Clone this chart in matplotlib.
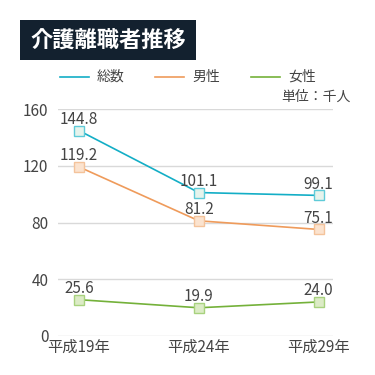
import matplotlib
matplotlib.use('Agg')
import matplotlib.pyplot as plt
from matplotlib.patches import Rectangle

plt.rcParams['font.family'] = ['Noto Sans CJK JP', 'DejaVu Sans']

years = ['平成19年', '平成24年', '平成29年']
total = [144.8, 101.1, 99.1]
male = [119.2, 81.2, 75.1]
female = [25.6, 19.9, 24.0]
series_names = ['総数', '男性', '女性']
yticks = [0, 40, 80, 120, 160]

line_colors = ['#13aec6', '#ef9b5b', '#74b13a']
face_colors = ['#e6f3ec', '#fbe3cf', '#dcebc6']
edge_colors = ['#5fcbd8', '#f4c39b', '#a8d27e']
text_color = '#444444'

fig = plt.figure(figsize=(3.75, 3.75), dpi=100)
W = H = 375.0
ax = fig.add_axes([58 / W, 1 - 336 / H, 275 / W, (336 - 109) / H])

x = list(range(len(years)))
for vals, lc, fc, ec in zip([total, male, female], line_colors, face_colors, edge_colors):
    ax.plot(x, vals, color=lc, lw=1.2, marker='s', ms=6.5, mfc=fc, mec=ec, mew=1.0, zorder=3)
    for xi, v in zip(x, vals):
        ax.annotate(f'{v:.1f}', (xi, v), xytext=(0, 2), textcoords='offset points',
                    ha='center', va='bottom', fontsize=11, color=text_color)

ax.set_xlim(-0.175, 2.12)
ax.set_ylim(0, 160)
ax.set_yticks(yticks)
ax.set_xticks(x)
ax.set_xticklabels(years)
ax.grid(axis='y', color='#d9d9d9', lw=1)
ax.set_axisbelow(True)
for s in ax.spines.values():
    s.set_visible(False)
ax.tick_params(length=0, labelsize=11, colors=text_color)
ax.tick_params(axis='y', pad=7)
ax.tick_params(axis='x', pad=2)

# title box
fig.patches.append(Rectangle((20 / W, 1 - 60 / H), 176 / W, 40 / H, transform=fig.transFigure,
                             facecolor='#13212f', edgecolor='none'))
fig.text(108 / W, 1 - 41 / H, '介護離職者推移', color='white', fontsize=16,
         fontweight='bold', ha='center', va='center')

# legend
legend_x = [(60, 97), (155, 192), (251, 288)]
for (lx, tx), name, lc in zip(legend_x, series_names, line_colors):
    fig.lines.append(plt.Line2D([lx / W, (lx + 29) / W], [1 - 77 / H, 1 - 77 / H],
                                transform=fig.transFigure, color=lc, lw=1.2))
    fig.text(tx / W, 1 - 77 / H, name, fontsize=10, color=text_color, va='center')
fig.text(351 / W, 1 - 97 / H, '単位：千人', fontsize=10, color=text_color, va='center', ha='right')

fig.savefig('out.png', dpi=100, facecolor='white')
